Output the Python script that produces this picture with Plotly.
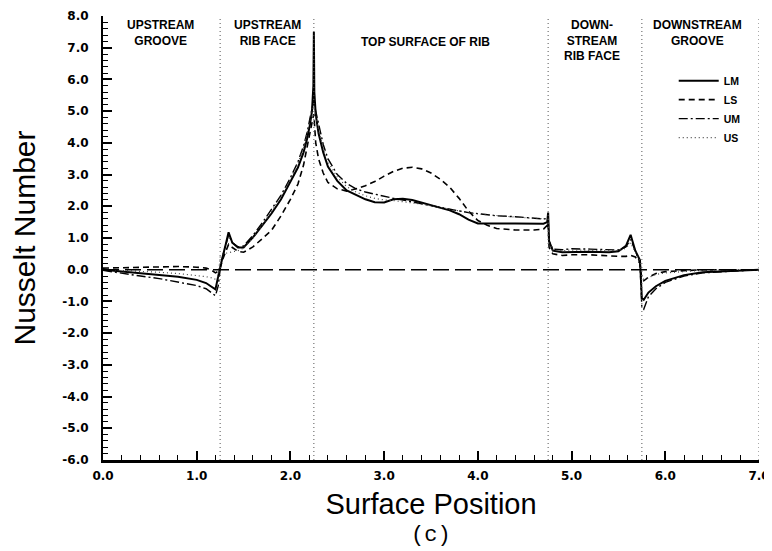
import plotly.graph_objects as go

# Surface position (shared x for all series)
position = [0.0, 0.2, 0.4, 0.6, 0.8, 1.0, 1.1, 1.15, 1.2, 1.23, 1.25, 1.28, 1.31, 1.34, 1.38, 1.44,
            1.5, 1.6, 1.7, 1.8, 1.9, 2.0, 2.08, 2.14, 2.18, 2.21, 2.23, 2.245, 2.25, 2.255, 2.27,
            2.3, 2.35, 2.4, 2.5, 2.6, 2.7, 2.8, 2.9, 3.0, 3.1, 3.2, 3.3, 3.4, 3.5, 3.6, 3.7, 3.8,
            3.9, 4.0, 4.1, 4.2, 4.4, 4.6, 4.7, 4.74, 4.75, 4.76, 4.8, 4.9, 5.0, 5.2, 5.4, 5.5,
            5.58, 5.63, 5.68, 5.73, 5.75, 5.77, 5.82, 5.9, 6.0, 6.2, 6.4, 6.7, 7.0]

lm = [0.0, -0.05, -0.1, -0.15, -0.22, -0.32, -0.42, -0.52, -0.62, -0.2, 0.1, 0.45, 0.8, 1.18, 0.85, 0.7,
      0.7, 1.02, 1.4, 1.78, 2.22, 2.75, 3.22, 3.7, 4.15, 4.6, 5.0, 5.8, 7.5, 5.6, 4.9,
      4.3, 3.7, 3.25, 2.8, 2.5, 2.35, 2.22, 2.13, 2.12, 2.22, 2.24, 2.2, 2.12, 2.03, 1.95, 1.87, 1.75,
      1.58, 1.46, 1.45, 1.46, 1.46, 1.45, 1.45, 1.5, 1.8, 0.9, 0.6, 0.55, 0.56, 0.57, 0.55, 0.58,
      0.75, 1.1, 0.6, 0.3, -0.9, -0.95, -0.72, -0.52, -0.35, -0.17, -0.08, -0.03, 0.0]

ls = [0.05, 0.06, 0.08, 0.1, 0.1, 0.08, 0.05, 0.0, -0.1, -0.05, 0.05, 0.35, 0.55, 0.8, 0.7, 0.58,
      0.55, 0.72, 0.98, 1.25, 1.7, 2.22, 2.7, 3.3, 3.9, 4.4, 4.7, 4.85, 4.9, 4.6, 4.0,
      3.5, 3.05, 2.75, 2.55, 2.48, 2.55, 2.65, 2.78, 2.95, 3.1, 3.2, 3.23, 3.18, 3.05, 2.85, 2.6, 2.25,
      1.85, 1.55, 1.4, 1.3, 1.25, 1.25, 1.28, 1.4, 1.5, 0.7, 0.5, 0.45, 0.47, 0.47, 0.43, 0.42,
      0.42, 0.45, 0.4, 0.2, -0.3, -0.35, -0.24, -0.12, -0.06, -0.02, 0.0, 0.0, 0.0]

um = [-0.02, -0.12, -0.2, -0.28, -0.38, -0.5, -0.6, -0.7, -0.82, -0.5, 0.0, 0.45, 0.75, 1.1, 0.85, 0.72,
      0.75, 1.08, 1.48, 1.9, 2.35, 2.9, 3.4, 3.9, 4.35, 4.8, 5.1, 5.3, 5.35, 5.2, 5.0,
      4.55, 3.95, 3.5, 3.0, 2.72, 2.55, 2.45, 2.38, 2.3, 2.25, 2.2, 2.15, 2.08, 2.02, 1.96, 1.9, 1.84,
      1.8, 1.77, 1.74, 1.7, 1.67, 1.62, 1.6, 1.62, 1.65, 0.9, 0.65, 0.63, 0.66, 0.65, 0.62, 0.62,
      0.72, 0.95, 0.6, 0.2, -1.2, -1.25, -0.85, -0.6, -0.4, -0.2, -0.1, -0.04, 0.0]

us = [0.0, -0.02, -0.05, -0.08, -0.12, -0.18, -0.22, -0.25, -0.3, -0.2, 0.4, 0.5, 0.52, 0.55, 0.58, 0.6,
      0.68, 1.0, 1.4, 1.85, 2.3, 2.85, 3.35, 3.85, 4.3, 4.7, 5.0, 5.15, 5.2, 5.05, 4.85,
      4.4, 3.85, 3.4, 2.92, 2.62, 2.45, 2.33, 2.25, 2.2, 2.18, 2.15, 2.12, 2.07, 2.02, 1.96, 1.9, 1.84,
      1.8, 1.76, 1.73, 1.7, 1.66, 1.62, 1.6, 1.6, 1.62, 0.85, 0.62, 0.6, 0.62, 0.62, 0.6, 0.6,
      0.68, 0.85, 0.55, 0.3, -0.2, -0.3, -0.25, -0.15, -0.1, -0.05, -0.02, 0.0, 0.0]

series_names = ["LM", "LS", "UM", "US"]
region_bounds = [1.25, 2.25, 4.75, 5.75, 7.0]
region_labels = ["UPSTREAM<br>GROOVE", "UPSTREAM<br>RIB FACE", "TOP SURFACE OF RIB",
                 "DOWN-<br>STREAM<br>RIB FACE", "DOWNSTREAM<br>GROOVE"]
region_label_x = [0.61, 1.75, 3.44, 5.22, 6.34]
region_label_top = [1.0, 1.0, 0.961, 1.0, 1.0]   # paper fraction
x_ticks = [0, 1, 2, 3, 4, 5, 6, 7]
y_ticks = [8, 7, 6, 5, 4, 3, 2, 1, 0, -1, -2, -3, -4, -5, -6]

fig = go.Figure()

styles = [
    dict(color="black", width=2, dash="solid"),
    dict(color="black", width=1.6, dash="6px,4px"),
    dict(color="black", width=1.4, dash="9px,3px,2px,3px"),
    dict(color="#444", width=1.2, dash="1px,3px"),
]
for name, ys, st in zip(series_names, [lm, ls, um, us], styles):
    fig.add_trace(go.Scatter(x=position, y=ys, mode="lines", name=name, line=st))

# zero reference line
fig.add_shape(type="line", xref="x", yref="y", x0=0, x1=7, y0=0, y1=0,
              line=dict(color="black", width=1.6, dash="16px,6px"))
# region boundaries
for b in region_bounds:
    fig.add_shape(type="line", xref="x", yref="y", x0=b, x1=b, y0=-6, y1=8,
                  line=dict(color="#555", width=1, dash="1px,3px"))

for txt, xx, yy in zip(region_labels, region_label_x, region_label_top):
    fig.add_annotation(x=xx, y=yy, xref="x", yref="paper", text="<b>" + txt + "</b>",
                       showarrow=False, yanchor="top", xanchor="center",
                       font=dict(family="Liberation Sans, Arial", size=12, color="black"))

fig.add_annotation(x=0.5, y=-0.171, xref="paper", yref="paper", text="(c)", showarrow=False,
                   yanchor="middle", font=dict(family="Liberation Mono, Courier New", size=22, color="black"))

tickfont = dict(family="DejaVu Sans", size=12, color="black", weight="bold")
fig.update_xaxes(range=[0, 7], tickvals=x_ticks, ticktext=[f"{v:.1f}" for v in x_ticks],
                 ticks="inside", ticklen=9, tickwidth=1.5, tickcolor="black",
                 minor=dict(ticks="inside", ticklen=5, dtick=0.2, tickcolor="black", tickwidth=1),
                 showline=True, linewidth=2.5, linecolor="black", showgrid=False, zeroline=False,
                 tickfont=tickfont, automargin=False, ticklabelstandoff=3,
                 title=dict(text="Surface Position", standoff=12,
                            font=dict(family="Liberation Sans, Arial", size=29, color="black")))
fig.update_yaxes(range=[-6, 8], tickvals=y_ticks,
                 ticktext=[f"{v:.1f}" for v in y_ticks],
                 ticks="inside", ticklen=9, tickwidth=1.5, tickcolor="black",
                 minor=dict(ticks="inside", ticklen=5, dtick=0.2, tickcolor="black", tickwidth=1),
                 showline=True, linewidth=2, linecolor="black", showgrid=False, zeroline=False,
                 tickfont=tickfont, automargin=False, ticklabelstandoff=10,
                 title=dict(text="Nusselt Number", standoff=20,
                            font=dict(family="Liberation Sans, Arial", size=30, color="black")))

fig.update_layout(
    width=764, height=543,
    margin=dict(l=95, r=13, t=8, b=91),
    plot_bgcolor="white", paper_bgcolor="white",
    showlegend=True,
    legend=dict(x=0.870, y=0.887, xanchor="left", yanchor="top", bgcolor="rgba(0,0,0,0)",
                font=dict(family="Liberation Sans, Arial", size=10.5, color="black", weight="bold"),
                tracegroupgap=0, itemwidth=40),
)

fig.write_html("out.html")
